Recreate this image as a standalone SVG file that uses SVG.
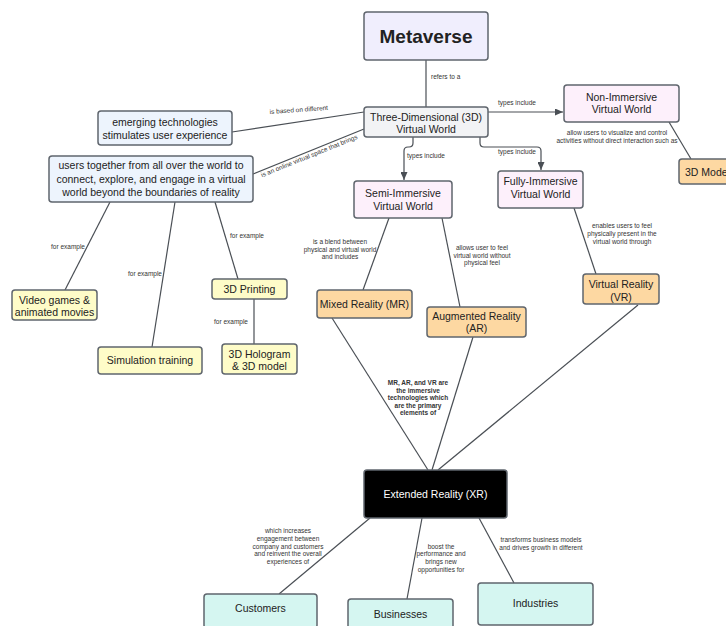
<svg xmlns="http://www.w3.org/2000/svg" width="726" height="626" viewBox="0 0 726 626">
<defs>
<marker id="arr" markerWidth="8" markerHeight="7" refX="8" refY="3.5" orient="auto" markerUnits="userSpaceOnUse">
<path d="M0,0 L8,3.5 L0,7 z" fill="#4a4f55"/>
</marker>
<style>
.n rect{stroke:#5f656d;stroke-width:1.5}
.t{font-family:"Liberation Sans",Arial,sans-serif;font-size:10.5px;fill:#222;text-anchor:middle}
.l{font-family:"Liberation Sans",Arial,sans-serif;font-size:6.5px;fill:#333;text-anchor:middle}
.b{font-weight:bold}
.c path,.c line{stroke:#4a4f55;stroke-width:1.2;fill:none}
.gray{fill:#f2f3f5}.lav{fill:#f0eefd}.blue{fill:#edf4fd}.pink{fill:#fdf0fb}.org{fill:#fdd8a2}.yel{fill:#fefcc8}.cyan{fill:#d5f6f1}
</style>
</defs>
<rect width="726" height="626" fill="#ffffff"/>

<g id="connectors" class="c">
<line x1="426" y1="60" x2="426" y2="107"/>
<line x1="364" y1="112" x2="232" y2="132"/>
<line x1="364" y1="129" x2="253" y2="174"/>
<path d="M488,112 H563" marker-end="url(#arr)"/>
<path d="M480,137 V143 Q480,147 484,147 H537 Q541,147 541,151 V170" marker-end="url(#arr)"/>
<path d="M413,137 V143 Q413,147 409,147 H408 Q404,147 404,151 V180" marker-end="url(#arr)"/>
<line x1="669" y1="122" x2="691" y2="159"/>
<line x1="389" y1="218" x2="363" y2="290"/>
<line x1="442" y1="218" x2="460" y2="307"/>
<line x1="574" y1="208" x2="596" y2="274"/>
<line x1="110" y1="202" x2="65" y2="290"/>
<line x1="175" y1="202" x2="152" y2="347"/>
<line x1="215" y1="202" x2="238" y2="279"/>
<line x1="254" y1="299" x2="254" y2="344"/>
<line x1="332" y1="318" x2="428" y2="470"/>
<line x1="473" y1="337" x2="432" y2="470"/>
<line x1="638" y1="305" x2="438" y2="470"/>
<line x1="370" y1="518" x2="279" y2="594"/>
<line x1="422" y1="518" x2="407" y2="599"/>
<line x1="479" y1="518" x2="514" y2="583"/>
</g>

<g id="labels">
<text class="l" x="431" y="79" style="text-anchor:start">refers to a</text>
<text class="l" transform="translate(299,112) rotate(-4)">is based on different</text>
<text class="l" transform="translate(310,158) rotate(-22)">is an online virtual space that brings</text>
<text class="l" x="517" y="105">types include</text>
<text class="l" x="517" y="154">types include</text>
<text class="l" x="426" y="157.5">types include</text>
<text class="l" x="617" y="135">allow users to visualize and control</text>
<text class="l" x="617" y="142.5">activities without direct interaction such as</text>
<text class="l" x="340" y="244">is a blend between</text>
<text class="l" x="340" y="251.5">physical and virtual world</text>
<text class="l" x="340" y="259">and includes</text>
<text class="l" x="482" y="250">allows user to feel</text>
<text class="l" x="482" y="257.5">virtual world without</text>
<text class="l" x="482" y="265">physical feel</text>
<text class="l" x="622" y="228">enables users to feel</text>
<text class="l" x="622" y="236">physically present in the</text>
<text class="l" x="622" y="244">virtual world through</text>
<text class="l" x="68" y="249">for example</text>
<text class="l" x="145" y="276">for example</text>
<text class="l" x="247" y="238">for example</text>
<text class="l" x="231" y="324">for example</text>
<text class="l b" x="418" y="385">MR, AR, and VR are</text>
<text class="l b" x="418" y="392.5">the immersive</text>
<text class="l b" x="418" y="400">technologies which</text>
<text class="l b" x="418" y="408">are the primary</text>
<text class="l b" x="418" y="415">elements of</text>
<text class="l" x="288" y="533">which increases</text>
<text class="l" x="288" y="541">engagement between</text>
<text class="l" x="288" y="548.5">company and customers</text>
<text class="l" x="288" y="556">and reinvent the overall</text>
<text class="l" x="288" y="564">experiences of</text>
<text class="l" x="441" y="548.5">boost the</text>
<text class="l" x="441" y="556">performance and</text>
<text class="l" x="441" y="564">brings new</text>
<text class="l" x="441" y="571.5">opportunities for</text>
<text class="l" x="541" y="542">transforms business models</text>
<text class="l" x="541" y="550">and drives growth in different</text>
</g>

<g id="metaverse" class="n"><rect class="lav" x="364" y="12" width="124" height="48" rx="3"/><text class="t b" x="426" y="43" style="font-size:19px">Metaverse</text></g>
<g id="virtual-3d" class="n"><rect class="gray" x="364" y="107" width="124" height="30" rx="3"/><text class="t" x="426" y="120.5">Three-Dimensional (3D)</text><text class="t" x="426" y="132.5">Virtual World</text></g>
<g id="emerging" class="n"><rect class="blue" x="98" y="111" width="134" height="34" rx="3"/><text class="t" x="165" y="126">emerging technologies</text><text class="t" x="165" y="138.5">stimulates user experience</text></g>
<g id="users" class="n"><rect class="blue" x="49" y="156" width="204" height="46" rx="3"/><text class="t" x="151" y="169">users together from all over the world to</text><text class="t" x="151" y="182.5">connect, explore, and engage in a virtual</text><text class="t" x="151" y="196">world beyond the boundaries of reality</text></g>
<g id="non-immersive" class="n"><rect class="pink" x="564" y="85" width="115" height="37" rx="3"/><text class="t" x="621.5" y="100.5">Non-Immersive</text><text class="t" x="621.5" y="113">Virtual World</text></g>
<g id="semi-immersive" class="n"><rect class="pink" x="354" y="181" width="98" height="37" rx="3"/><text class="t" x="403" y="197">Semi-Immersive</text><text class="t" x="403" y="209.5">Virtual World</text></g>
<g id="fully-immersive" class="n"><rect class="pink" x="498" y="171" width="85" height="37" rx="3"/><text class="t" x="540.5" y="185">Fully-Immersive</text><text class="t" x="540.5" y="197.5">Virtual World</text></g>
<g id="model-3d" class="n"><rect class="org" x="679" y="159" width="64" height="25" rx="3"/><text class="t" x="685" y="175.5" style="text-anchor:start">3D Model</text></g>
<g id="mr" class="n"><rect class="org" x="317" y="290" width="95" height="28" rx="3"/><text class="t" x="364.5" y="308">Mixed Reality (MR)</text></g>
<g id="ar" class="n"><rect class="org" x="427" y="307" width="99" height="30" rx="3"/><text class="t" x="476.5" y="319.5">Augmented Reality</text><text class="t" x="476.5" y="332">(AR)</text></g>
<g id="vr" class="n"><rect class="org" x="583" y="274" width="76" height="30" rx="3"/><text class="t" x="621" y="288">Virtual Reality</text><text class="t" x="621" y="300.5">(VR)</text></g>
<g id="video-games" class="n"><rect class="yel" x="12" y="290" width="85" height="30" rx="3"/><text class="t" x="54.5" y="304">Video games &amp;</text><text class="t" x="54.5" y="316">animated movies</text></g>
<g id="simulation" class="n"><rect class="yel" x="98" y="347" width="104" height="27" rx="3"/><text class="t" x="150" y="364">Simulation training</text></g>
<g id="printing" class="n"><rect class="yel" x="212" y="279" width="75" height="20" rx="3"/><text class="t" x="249.5" y="292.5">3D Printing</text></g>
<g id="hologram" class="n"><rect class="yel" x="222" y="344" width="75" height="30" rx="3"/><text class="t" x="259.5" y="357.5">3D Hologram</text><text class="t" x="259.5" y="369.5">&amp; 3D model</text></g>
<g id="xr" class="n"><rect x="364" y="470" width="143" height="48" rx="3" fill="#000000"/><text class="t" x="435.5" y="498" style="fill:#ffffff">Extended Reality (XR)</text></g>
<g id="customers" class="n"><rect class="cyan" x="204" y="594" width="113" height="34" rx="3"/><text class="t" x="260.5" y="612">Customers</text></g>
<g id="businesses" class="n"><rect class="cyan" x="348" y="599" width="105" height="30" rx="3"/><text class="t" x="400.5" y="618">Businesses</text></g>
<g id="industries" class="n"><rect class="cyan" x="478" y="583" width="115" height="42" rx="3"/><text class="t" x="535.5" y="607">Industries</text></g>
</svg>
